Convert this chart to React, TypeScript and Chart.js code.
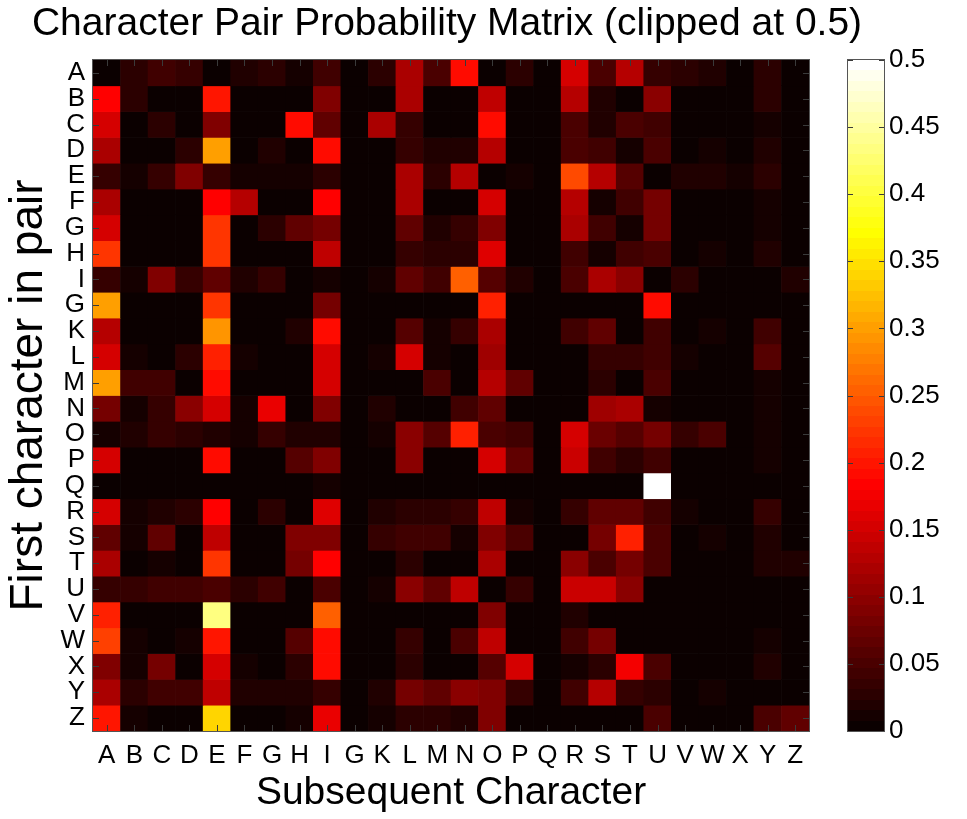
import React, { useEffect, useRef } from 'react';
import { Chart, registerables } from 'chart.js';

Chart.register(...registerables);

// ---------------- data ----------------
const colLabels = ['A','B','C','D','E','F','G','H','I','G','K','L','M','N','O','P','Q','R','S','T','U','V','W','X','Y','Z'];
const rowLabels = ['A','B','C','D','E','F','G','H','I','G','K','L','M','N','O','P','Q','R','S','T','U','V','W','X','Y','Z'];

const rowA = [.005,.025,.04,.035,.005,.02,.03,.015,.04,.005,.025,.12,.05,.19,.005,.03,.005,.15,.05,.13,.035,.025,.02,.005,.025,.005];
const rowB = [.18,.025,.005,.005,.2,.005,.005,.005,.09,.005,.005,.12,.005,.005,.14,.005,.005,.13,.02,.005,.1,.005,.005,.005,.025,.005];
const rowC = [.155,.005,.025,.005,.09,.005,.005,.19,.07,.005,.12,.035,.005,.005,.19,.005,.005,.05,.02,.05,.04,.005,.005,.005,.015,.005];
const rowD = [.12,.005,.005,.025,.3,.005,.02,.005,.19,.005,.005,.035,.02,.02,.125,.005,.005,.05,.045,.015,.05,.005,.01,.005,.02,.005];
const rowE = [.035,.015,.035,.09,.035,.015,.015,.015,.03,.005,.005,.12,.03,.13,.005,.015,.005,.24,.13,.06,.005,.02,.02,.015,.03,.005];
const rowF = [.12,.005,.005,.005,.18,.13,.005,.005,.185,.005,.005,.12,.005,.005,.15,.005,.005,.125,.015,.04,.08,.005,.005,.005,.015,.005];
const rowG = [.15,.005,.005,.005,.22,.005,.03,.07,.08,.005,.005,.07,.02,.035,.09,.005,.005,.12,.04,.015,.08,.005,.005,.005,.015,.005];
const rowH = [.22,.005,.005,.005,.22,.005,.005,.005,.14,.005,.005,.035,.03,.03,.16,.005,.005,.04,.015,.04,.05,.005,.01,.005,.02,.005];
const rowI = [.035,.01,.09,.035,.07,.02,.035,.005,.01,.005,.015,.07,.04,.25,.06,.02,.005,.05,.12,.1,.005,.025,.005,.005,.005,.02];
const rowJ = [.3,.005,.005,.005,.22,.005,.005,.005,.08,.005,.005,.005,.005,.005,.21,.005,.005,.005,.005,.005,.19,.005,.005,.005,.005,.005];
const rowK = [.13,.005,.005,.005,.29,.005,.005,.02,.19,.005,.005,.06,.015,.035,.12,.005,.005,.04,.07,.005,.04,.005,.015,.005,.04,.005];
const rowL = [.155,.01,.005,.03,.21,.015,.005,.005,.155,.005,.015,.155,.015,.005,.115,.005,.005,.005,.035,.035,.04,.015,.005,.005,.055,.005];
const rowM = [.3,.04,.04,.005,.19,.005,.005,.005,.15,.005,.005,.005,.05,.005,.13,.07,.005,.005,.03,.005,.05,.005,.005,.005,.015,.005];
const rowN = [.08,.01,.035,.1,.155,.01,.165,.005,.09,.005,.02,.005,.005,.04,.07,.005,.005,.005,.11,.12,.015,.005,.005,.005,.015,.005];
const rowO = [.01,.02,.035,.03,.02,.015,.035,.02,.02,.005,.015,.1,.06,.21,.05,.04,.005,.15,.075,.06,.08,.035,.05,.005,.015,.005];
const rowP = [.155,.005,.005,.005,.19,.005,.005,.06,.09,.005,.005,.1,.005,.005,.15,.07,.005,.145,.04,.03,.04,.005,.005,.005,.015,.005];
const rowQ = [.005,.005,.005,.005,.005,.005,.005,.005,.01,.005,.005,.005,.005,.005,.005,.005,.005,.005,.005,.005,.5,.005,.005,.005,.005,.005];
const rowR = [.155,.015,.02,.03,.18,.005,.03,.005,.16,.005,.02,.025,.03,.035,.14,.015,.005,.035,.07,.07,.04,.015,.005,.005,.035,.005];
const rowS = [.07,.01,.07,.005,.14,.005,.005,.09,.09,.005,.035,.04,.04,.015,.09,.05,.005,.005,.08,.21,.05,.005,.015,.005,.02,.005];
const rowT = [.12,.005,.01,.005,.22,.005,.005,.08,.18,.005,.005,.03,.005,.005,.12,.005,.005,.1,.05,.08,.05,.005,.005,.005,.02,.02];
const rowU = [.035,.035,.04,.04,.05,.025,.04,.005,.05,.005,.015,.1,.07,.14,.005,.035,.005,.145,.145,.1,.005,.005,.005,.005,.005,.005];
const rowV = [.21,.005,.005,.005,.43,.005,.005,.005,.25,.005,.005,.005,.005,.005,.09,.005,.005,.02,.005,.005,.005,.005,.005,.005,.005,.005];
const rowW = [.23,.015,.005,.015,.2,.005,.005,.06,.19,.005,.005,.035,.005,.05,.14,.005,.005,.04,.08,.005,.005,.005,.005,.005,.015,.005];
const rowX = [.09,.015,.08,.005,.15,.015,.005,.03,.19,.005,.005,.03,.005,.005,.06,.15,.005,.01,.025,.175,.05,.005,.005,.005,.02,.005];
const rowY = [.12,.025,.04,.04,.14,.02,.02,.02,.035,.005,.02,.08,.07,.1,.09,.035,.005,.04,.125,.035,.025,.005,.015,.005,.005,.005];
const rowZ = [.2,.015,.005,.005,.34,.005,.005,.015,.165,.005,.015,.03,.03,.02,.09,.005,.005,.005,.005,.005,.05,.005,.005,.005,.05,.07];

const matrix = [rowA,rowB,rowC,rowD,rowE,rowF,rowG,rowH,rowI,rowJ,rowK,rowL,rowM,rowN,rowO,rowP,rowQ,rowR,rowS,rowT,rowU,rowV,rowW,rowX,rowY,rowZ];

const clipMin = 0;
const clipMax = 0.5;
const colorbarStep = 0.05;

const titleText = 'Character Pair Probability Matrix (clipped at 0.5)';
const xTitle = 'Subsequent Character';
const yTitle = 'First character in pair';

// ---------------- colormap (MATLAB hot, 64 levels) ----------------
const M = 64;
const N1 = 24;
function hotIndex(idx: number): string {
  const r = idx <= N1 ? idx / N1 : 1;
  const g = idx <= N1 ? 0 : idx <= 2 * N1 ? (idx - N1) / N1 : 1;
  const b = idx <= 2 * N1 ? 0 : (idx - 2 * N1) / (M - 2 * N1);
  return `rgb(${Math.round(r * 255)},${Math.round(g * 255)},${Math.round(b * 255)})`;
}
function hot(v: number): string {
  const t = Math.max(0, Math.min(1, (v - clipMin) / (clipMax - clipMin)));
  const idx = Math.min(M, Math.floor(t * M) + 1);
  return hotIndex(idx);
}

const FONT = "'Liberation Sans', Arial, Helvetica, sans-serif";

const framePlugin = (opts: { xTicks: boolean; yTicks: boolean; tickLen: number }) => ({
  id: 'frame',
  afterDatasetsDraw(chart: any) {
    const { ctx, chartArea } = chart;
    const { left, right, top, bottom } = chartArea;
    ctx.save();
    ctx.strokeStyle = '#3a3a3a';
    ctx.lineWidth = 1;
    const L = opts.tickLen;
    ctx.beginPath();
    if (opts.xTicks) {
      const xs = chart.scales.x;
      xs.ticks.forEach((_: any, i: number) => {
        const px = Math.round(xs.getPixelForTick(i)) + 0.5;
        ctx.moveTo(px, bottom); ctx.lineTo(px, bottom - L);
        ctx.moveTo(px, top); ctx.lineTo(px, top + L);
      });
    }
    if (opts.yTicks) {
      const ys = chart.scales.y;
      ys.ticks.forEach((_: any, i: number) => {
        const py = Math.round(ys.getPixelForTick(i)) + 0.5;
        ctx.moveTo(left, py); ctx.lineTo(left + L, py);
        ctx.moveTo(right, py); ctx.lineTo(right - L, py);
      });
    }
    ctx.stroke();
    ctx.strokeStyle = '#555';
    ctx.strokeRect(left - 0.5, top - 0.5, right - left + 1, bottom - top + 1);
    ctx.restore();
  },
});

export default function App() {
  const mainRef = useRef<HTMLCanvasElement | null>(null);
  const cbRef = useRef<HTMLCanvasElement | null>(null);

  useEffect(() => {
    if (!mainRef.current || !cbRef.current) return;
    const font = (size: number) => ({ family: FONT, size, weight: 'normal' as const });

    const main = new Chart(mainRef.current, {
      type: 'bar',
      data: {
        labels: colLabels,
        datasets: matrix.map((row, r) => ({
          label: rowLabels[r],
          data: row.map(() => 1),
          backgroundColor: row.map(hot),
          borderWidth: 0,
          barPercentage: 1,
          categoryPercentage: 1,
          stack: 'cells',
        })),
      },
      options: {
        animation: false,
        responsive: false,
        maintainAspectRatio: false,
        layout: { padding: 0 },
        plugins: {
          legend: { display: false },
          tooltip: { enabled: false },
          title: {
            display: true,
            text: titleText,
            color: '#000',
            font: font(39),
            padding: { top: 0.6, bottom: 12.6 },
          },
        },
        scales: {
          x: {
            stacked: true,
            grid: { display: false, drawTicks: false },
            border: { display: false },
            ticks: { color: '#000', font: font(26), padding: 9, autoSkip: false, maxRotation: 0 },
            title: { display: true, text: xTitle, color: '#000', font: font(39), padding: { top: 0, bottom: 2.6 } },
            afterFit: (s: any) => { s.height = 88; },
          },
          y: {
            stacked: true,
            reverse: true,
            min: 0,
            max: rowLabels.length,
            afterBuildTicks: (s: any) => { s.ticks = rowLabels.map((_, i) => ({ value: i + 0.5 })); },
            grid: { display: false, drawTicks: false },
            border: { display: false },
            ticks: {
              color: '#000',
              font: font(26),
              padding: 8,
              autoSkip: false,
              callback: (v: any) => rowLabels[Math.floor(Number(v))],
            },
            title: { display: true, text: yTitle, color: '#000', font: font(46), padding: { top: 1.5, bottom: 0 } },
            afterFit: (s: any) => { s.width = 93; },
          },
          y2: {
            position: 'right',
            grid: { display: false, drawTicks: false },
            border: { display: false },
            ticks: { display: false },
            afterFit: (s: any) => { s.width = 85; },
          },
        },
      },
      plugins: [framePlugin({ xTicks: true, yTicks: true, tickLen: 6 })],
    });

    const cb = new Chart(cbRef.current, {
      type: 'bar',
      data: {
        labels: [''],
        datasets: [{
          data: [[clipMin, clipMax]] as any,
          backgroundColor: (ctx: any) => {
            const area = ctx.chart.chartArea;
            if (!area) return '#000';
            const g = ctx.chart.ctx.createLinearGradient(0, area.bottom, 0, area.top);
            for (let i = 1; i <= M; i++) {
              const c = hotIndex(i);
              g.addColorStop((i - 1) / M, c);
              g.addColorStop(i / M - 1e-6, c);
            }
            return g;
          },
          borderWidth: 0,
          barPercentage: 1,
          categoryPercentage: 1,
        }],
      },
      options: {
        animation: false,
        responsive: false,
        maintainAspectRatio: false,
        layout: { padding: { left: 8, top: 60, bottom: 88, right: 0 } },
        plugins: { legend: { display: false }, tooltip: { enabled: false } },
        scales: {
          x: { display: false },
          y: {
            position: 'right',
            min: clipMin,
            max: clipMax,
            grid: { display: false, drawTicks: false },
            border: { display: false },
            ticks: {
              stepSize: colorbarStep,
              color: '#000',
              font: font(26),
              padding: 5,
              callback: (v: any) => String(Math.round(Number(v) * 100) / 100),
            },
            afterFit: (s: any) => { s.width = 83; },
          },
        },
      },
      plugins: [framePlugin({ xTicks: false, yTicks: true, tickLen: 5 })],
    });

    return () => { main.destroy(); cb.destroy(); };
  }, []);

  return (
    <div style={{ position: 'absolute', left: 0, top: 0, width: 967, height: 819, background: '#fff' }}>
      <canvas ref={mainRef} width={894} height={819}
        style={{ position: 'absolute', left: 0, top: 0, width: 894, height: 819 }} />
      <canvas ref={cbRef} width={127} height={819}
        style={{ position: 'absolute', left: 840, top: 0, width: 127, height: 819 }} />
    </div>
  );
}
